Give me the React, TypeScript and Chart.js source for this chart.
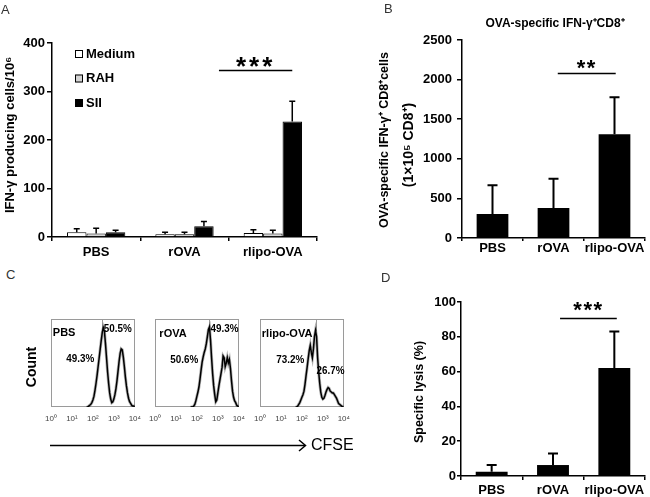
import React, { useEffect, useRef } from 'react';
import { Chart, registerables } from 'chart.js';

Chart.register(...registerables);

const FONT = '"Liberation Sans", Arial, sans-serif';
Chart.defaults.font.family = FONT;
Chart.defaults.color = '#000';

// ---------- shared ----------
const groups = ['PBS', 'rOVA', 'rlipo-OVA'];

// ---------- Panel A ----------
const aLegend = ['Medium', 'RAH', 'SII'];
const aMedium = [10, 5.5, 8];
const aMediumSd = [7, 4.5, 7];
const aRah = [7, 5.5, 7];
const aRahSd = [11, 4.5, 7];
const aSii = [9.6, 22, 238];
const aSiiSd = [4.4, 10, 42];
const aYTitle = 'IFN-γ producing cells/10⁶';

// ---------- Panel B ----------
const bTitle = 'OVA-specific IFN-γ⁺CD8⁺';
const bYTitle1 = 'OVA-specific IFN-γ⁺ CD8⁺cells';
const bYTitle2 = '(1×10⁵ CD8⁺)';
const bValues = [303, 379, 1309];
const bSd = [362, 370, 467];

// ---------- Panel D ----------
const dYTitle = 'Specific lysis (%)';
const dValues = [2.5, 6.3, 62];
const dSd = [3.8, 6.7, 21];

// ---------- Panel C (CFSE histograms, x in log10 units) ----------
const logTicks = ['10⁰', '10¹', '10²', '10³', '10⁴'];
const cfseLog = [
  1.70, 1.75, 1.80, 1.85, 1.90, 1.95, 2.00, 2.05, 2.10, 2.15, 2.20,
  2.25, 2.30, 2.35, 2.40, 2.45, 2.50, 2.55, 2.60, 2.65, 2.70, 2.75,
  2.80, 2.85, 2.90, 2.95, 3.00, 3.05, 3.10, 3.15, 3.20, 3.25, 3.30,
  3.35, 3.40, 3.45, 3.50, 3.55, 3.60, 3.65, 3.70, 3.75, 3.80, 3.85,
  3.90, 3.95, 4.00,
];
const pbsCounts = [
  0, 0, 1, 2, 3, 5, 8, 12, 19, 27, 36,
  46, 56, 66, 76, 85, 90, 86, 72, 56, 40, 27,
  16, 9, 5, 6, 9, 14, 21, 30, 41, 52, 61,
  66, 65, 57, 46, 34, 24, 16, 10, 6, 4, 2,
  1, 1, 0,
];
const rovaCounts = [
  0, 0, 0, 1, 3, 7, 12, 17, 23, 32, 42,
  51, 57, 62, 66, 72, 80, 88, 91, 76, 56, 38,
  24, 14, 6, 8, 16, 24, 31, 38, 45, 58, 56,
  46, 50, 56, 50, 54, 44, 30, 18, 11, 7, 5,
  2, 1, 0,
];
const rlipoCounts = [
  0, 0, 1, 3, 5, 8, 11, 14, 18, 26, 36,
  45, 55, 64, 70, 62, 56, 66, 80, 87, 80, 56,
  40, 27, 17, 11, 9, 10, 13, 17, 20, 22, 21,
  18, 17, 16, 16, 14, 12, 10, 7, 4, 3, 2,
  1, 0, 0,
];
const histCounts = [pbsCounts, rovaCounts, rlipoCounts];
const gates = [2.43, 2.57, 2.66];
const gateStops = [86, 90, 86];
const leftPct = ['49.3%', '50.6%', '73.2%'];
const rightPct = ['50.5%', '49.3%', '26.7%'];
const labelAt = [[0.09, 84], [0.21, 83], [0.09, 83]];
const leftPctAt = [[1.4, 54.5], [1.4, 53.4], [1.45, 53.4]];
const rightPctAt = [[3.19, 88.6], [3.32, 88.6], [3.36, 41]];
const boxLefts = [46, 150, 255];

type Txt = {
  text: string; x: number; y: number; font: string; rot?: boolean;
  align?: CanvasTextAlign; base?: CanvasTextBaseline; color?: string; maxW?: number; ls?: string;
};

function drawText(ctx: CanvasRenderingContext2D, t: Txt) {
  ctx.save();
  ctx.font = t.font;
  ctx.fillStyle = t.color || '#000';
  ctx.textAlign = t.align || 'center';
  ctx.textBaseline = t.base || 'middle';
  if (t.ls) (ctx as any).letterSpacing = t.ls;
  ctx.translate(t.x, t.y);
  if (t.rot) ctx.rotate(-Math.PI / 2);
  if (t.maxW) ctx.fillText(t.text, 0, 0, t.maxW);
  else ctx.fillText(t.text, 0, 0);
  ctx.restore();
}

type Sig = { from: number; to: number; value: number; stars: string; font: string; ls: string; dy: number };

function barExtras(o: {
  errors: number[][]; cap: number; lw: number; sig: Sig; texts: Txt[];
  legend?: { x: number; y0: number; dy: number; box: number; font: string };
}) {
  return {
    id: 'barExtras',
    afterDatasetsDraw(chart: any) {
      const ctx: CanvasRenderingContext2D = chart.ctx;
      const xs = chart.scales.x;
      const ys = chart.scales.y;
      ctx.save();
      ctx.strokeStyle = '#000';
      ctx.lineWidth = o.lw;
      chart.data.datasets.forEach((ds: any, di: number) => {
        const meta = chart.getDatasetMeta(di);
        meta.data.forEach((el: any, i: number) => {
          const v = ds.data[i] as number;
          const top = ys.getPixelForValue(v + o.errors[di][i]);
          ctx.beginPath();
          ctx.moveTo(el.x, el.y);
          ctx.lineTo(el.x, top);
          ctx.moveTo(el.x - o.cap / 2, top);
          ctx.lineTo(el.x + o.cap / 2, top);
          ctx.stroke();
        });
      });
      const s = o.sig;
      const y = Math.round(ys.getPixelForValue(s.value)) + 0.5;
      ctx.lineWidth = 1.5;
      ctx.beginPath();
      ctx.moveTo(xs.getPixelForValue(s.from), y);
      ctx.lineTo(xs.getPixelForValue(s.to), y);
      ctx.stroke();
      drawText(ctx, {
        text: s.stars, x: xs.getPixelForValue((s.from + s.to) / 2), y: y + s.dy,
        font: s.font, base: 'alphabetic', ls: s.ls,
      });
      if (o.legend) {
        const L = o.legend;
        chart.data.datasets.forEach((ds: any, di: number) => {
          const cy = L.y0 + di * L.dy;
          ctx.fillStyle = ds.backgroundColor;
          ctx.fillRect(L.x - L.box / 2, cy - L.box / 2, L.box, L.box);
          ctx.lineWidth = 1;
          ctx.strokeStyle = '#000';
          ctx.strokeRect(L.x - L.box / 2 + 0.5, cy - L.box / 2 + 0.5, L.box - 1, L.box - 1);
          drawText(ctx, { text: ds.label, x: L.x + L.box / 2 + 3, y: cy, font: L.font, align: 'left' });
        });
      }
      o.texts.forEach((t) => drawText(ctx, t));
      ctx.restore();
    },
  };
}

const tickFont = { size: 13, weight: 'bold' as const };

function barScales(o: {
  max: number; step: number; yWidth: number; xHeight: number; yPad: number; yTick: number; xTick: number; xPad: number;
}) {
  return {
    x: {
      grid: { display: true, drawOnChartArea: false, tickLength: o.xTick, color: '#000', lineWidth: 1.5, offset: true },
      border: { color: '#000', width: 1.5 },
      ticks: { font: tickFont, color: '#000', padding: o.xPad, maxRotation: 0, autoSkip: false },
      afterFit: (s: any) => { s.height = o.xHeight; },
    },
    y: {
      min: 0, max: o.max,
      grid: { drawOnChartArea: false, tickLength: o.yTick, color: '#000', lineWidth: 1.5 },
      border: { color: '#000', width: 1.5 },
      ticks: { stepSize: o.step, font: tickFont, color: '#000', padding: o.yPad, callback: (v: number) => String(v) },
      afterFit: (s: any) => { s.width = o.yWidth; },
    },
  };
}

function makeA(): any {
  return {
    type: 'bar',
    data: {
      labels: groups,
      datasets: [
        { label: aLegend[0], data: aMedium, backgroundColor: '#ffffff', borderColor: '#000', borderWidth: 1 },
        { label: aLegend[1], data: aRah, backgroundColor: '#d4d4d4', borderColor: '#000', borderWidth: 1 },
        { label: aLegend[2], data: aSii, backgroundColor: '#000000', borderColor: '#000', borderWidth: 1 },
      ],
    },
    options: {
      responsive: false, animation: false,
      layout: { padding: { left: 0, top: 43, right: 8, bottom: 0 } },
      plugins: { legend: { display: false }, tooltip: { enabled: false } },
      datasets: { bar: { categoryPercentage: 0.66, barPercentage: 1 } },
      scales: barScales({ max: 400, step: 100, yWidth: 52, xHeight: 25, yPad: 2, yTick: 5, xTick: 4, xPad: 4 }),
    },
    plugins: [barExtras({
      errors: [aMediumSd, aRahSd, aSiiSd], cap: 6, lw: 1.5,
      sig: { from: 1.39, to: 2.22, value: 344, stars: '***', font: `bold 26px ${FONT}`, ls: '3px', dy: 4.6 },
      texts: [{ text: aYTitle, x: 10, y: 135, rot: true, font: `bold 13px ${FONT}` }],
      legend: { x: 79, y0: 54, dy: 24.5, box: 8, font: `bold 13px ${FONT}` },
    })],
  };
}

function makeB(): any {
  return {
    type: 'bar',
    data: { labels: groups, datasets: [{ label: 'B', data: bValues, backgroundColor: '#000', borderColor: '#000', borderWidth: 0 }] },
    options: {
      responsive: false, animation: false,
      layout: { padding: { left: 0, top: 40, right: 5, bottom: 0 } },
      plugins: { legend: { display: false }, tooltip: { enabled: false } },
      datasets: { bar: { categoryPercentage: 0.52, barPercentage: 1 } },
      scales: barScales({ max: 2500, step: 500, yWidth: 137, xHeight: 24, yPad: 5, yTick: 5, xTick: 3, xPad: 0 }),
    },
    plugins: [barExtras({
      errors: [bSd], cap: 10, lw: 2,
      sig: { from: 1.07, to: 2.02, value: 2083, stars: '**', font: `bold 22px ${FONT}`, ls: '1.5px', dy: 1.8 },
      texts: [
        { text: bTitle, x: 230, y: 24, font: `bold 12px ${FONT}` },
        { text: bYTitle1, x: 60, y: 140, rot: true, font: `bold 12.5px ${FONT}` },
        { text: bYTitle2, x: 84, y: 145, rot: true, font: `bold 14px ${FONT}` },
      ],
    })],
  };
}

function makeD(): any {
  return {
    type: 'bar',
    data: { labels: groups, datasets: [{ label: 'D', data: dValues, backgroundColor: '#000', borderColor: '#000', borderWidth: 0 }] },
    options: {
      responsive: false, animation: false,
      layout: { padding: { left: 0, top: 40, right: 5, bottom: 0 } },
      plugins: { legend: { display: false }, tooltip: { enabled: false } },
      datasets: { bar: { categoryPercentage: 0.52, barPercentage: 1 } },
      scales: barScales({ max: 100, step: 20, yWidth: 136, xHeight: 21, yPad: 1, yTick: 4, xTick: 4, xPad: 3 }),
    },
    plugins: [barExtras({
      errors: [dSd], cap: 10, lw: 2,
      sig: { from: 1.115, to: 2.04, value: 90.6, stars: '***', font: `bold 22px ${FONT}`, ls: '1.5px', dy: -1.7 },
      texts: [{ text: dYTitle, x: 95, y: 130, rot: true, font: `bold 12.5px ${FONT}` }],
    })],
  };
}

function histExtras(i: number) {
  return {
    id: 'histExtras',
    beforeDatasetsDraw(chart: any) {
      const ctx: CanvasRenderingContext2D = chart.ctx;
      const a = chart.chartArea;
      const xs = chart.scales.x;
      const ys = chart.scales.y;
      ctx.save();
      ctx.strokeStyle = '#9a9a9a';
      ctx.lineWidth = 1;
      ctx.strokeRect(Math.round(a.left) + 0.5, Math.round(a.top) + 0.5, Math.round(a.right - a.left) - 1, Math.round(a.bottom - a.top) - 1);
      const gx = Math.round(xs.getPixelForValue(gates[i])) + 0.5;
      ctx.beginPath();
      ctx.moveTo(gx, a.top);
      ctx.lineTo(gx, ys.getPixelForValue(gateStops[i]));
      ctx.stroke();
      ctx.restore();
    },
    afterDatasetsDraw(chart: any) {
      const ctx: CanvasRenderingContext2D = chart.ctx;
      const xs = chart.scales.x;
      const ys = chart.scales.y;
      drawText(ctx, {
        text: groups[i], x: xs.getPixelForValue(labelAt[i][0]), y: ys.getPixelForValue(labelAt[i][1]),
        font: `bold 11px ${FONT}`, align: 'left',
      });
      drawText(ctx, {
        text: leftPct[i], x: xs.getPixelForValue(leftPctAt[i][0]), y: ys.getPixelForValue(leftPctAt[i][1]),
        font: `bold 10.5px ${FONT}`, maxW: 28,
      });
      drawText(ctx, {
        text: rightPct[i], x: xs.getPixelForValue(rightPctAt[i][0]), y: ys.getPixelForValue(rightPctAt[i][1]),
        font: `bold 10.5px ${FONT}`, maxW: 28,
      });
    },
  };
}

function makeHist(i: number): any {
  const pts = cfseLog.map((x, j) => ({ x, y: histCounts[i][j] }));
  return {
    type: 'line',
    data: {
      datasets: [
        { data: pts, borderColor: 'rgba(0,0,0,0.3)', borderWidth: 3, pointRadius: 0, tension: 0 },
        { data: pts, borderColor: '#000', borderWidth: 1.5, pointRadius: 0, tension: 0 },
      ],
    },
    options: {
      responsive: false, animation: false,
      layout: { padding: { left: 8, right: 8, top: 5, bottom: 0 } },
      plugins: { legend: { display: false }, tooltip: { enabled: false } },
      scales: {
        x: {
          type: 'linear', min: 0, max: 4,
          grid: { display: false, drawTicks: false },
          border: { display: false },
          ticks: { stepSize: 1, autoSkip: false, maxRotation: 0, font: { size: 8 }, color: '#444', padding: 7,
            callback: (v: number) => logTicks[v] },
          afterFit: (s: any) => { s.height = 18; },
        },
        y: { display: false, min: 0, max: 100 },
      },
    },
    plugins: [histExtras(i)],
  };
}

function ChartCanvas(props: { make: () => any; left: number; top: number; width: number; height: number }) {
  const ref = useRef<HTMLCanvasElement | null>(null);
  useEffect(() => {
    const c = new Chart(ref.current as HTMLCanvasElement, props.make());
    return () => c.destroy();
  }, []);
  return (
    <canvas
      ref={ref}
      width={props.width}
      height={props.height}
      style={{ position: 'absolute', left: props.left, top: props.top, width: props.width, height: props.height, display: 'block' }}
    />
  );
}

const letterStyle = (left: number, top: number): React.CSSProperties => ({
  position: 'absolute', left, top, font: `13px ${FONT}`, color: '#333', lineHeight: '13px',
});

export default function App() {
  return (
    <div style={{ position: 'absolute', left: 0, top: 0, width: 650, height: 497, background: '#fff', overflow: 'hidden' }}>
      <ChartCanvas make={makeA} left={0} top={0} width={325} height={262} />
      <ChartCanvas make={makeB} left={325} top={0} width={325} height={262} />
      <ChartCanvas make={makeD} left={325} top={262} width={325} height={235} />
      {[0, 1, 2].map((i) => (
        <ChartCanvas key={i} make={() => makeHist(i)} left={boxLefts[i] - 8} top={314} width={94 + 16} height={88 + 5 + 18} />
      ))}
      <div style={letterStyle(1, 3)}>A</div>
      <div style={letterStyle(384, 2)}>B</div>
      <div style={letterStyle(6, 268)}>C</div>
      <div style={letterStyle(381, 271)}>D</div>
      <div style={{ position: 'absolute', left: 31, top: 367, transform: 'translate(-50%, -50%) rotate(-90deg)', whiteSpace: 'nowrap', font: `bold 14px ${FONT}`, lineHeight: '14px' }}>Count</div>
      <svg width={650} height={497} style={{ position: 'absolute', left: 0, top: 0, pointerEvents: 'none' }}>
        <line x1={50} y1={445.5} x2={305} y2={445.5} stroke="#000" strokeWidth={1.5} />
        <polyline points="299,440 305.5,445.5 299,451" fill="none" stroke="#000" strokeWidth={1.5} />
      </svg>
      <div style={{ position: 'absolute', left: 311, top: 445, transform: 'translateY(-50%)', font: `16px ${FONT}`, lineHeight: '16px' }}>CFSE</div>
    </div>
  );
}
